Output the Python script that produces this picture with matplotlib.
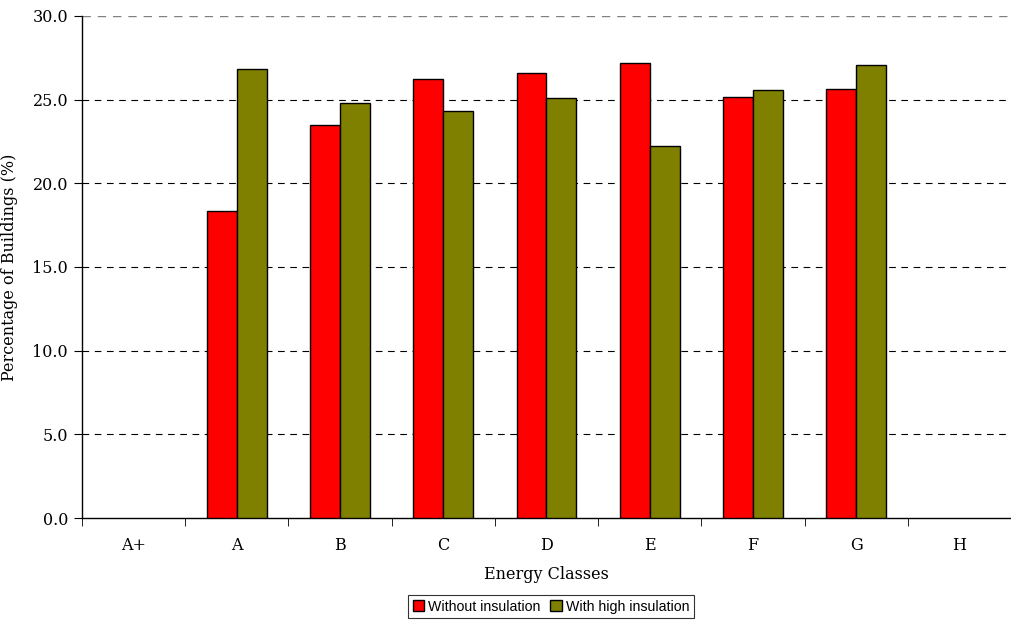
import matplotlib.pyplot as plt
import numpy as np

classes = ["A+", "A", "B", "C", "D", "E", "F", "G", "H"]
without_ins = [0.0, 18.35, 23.5, 26.24, 26.6, 27.2, 25.16, 25.64, 0.0]
with_high = [0.0, 26.84, 24.8, 24.33, 25.08, 22.24, 25.58, 27.08, 0.0]

plt.rcParams["font.family"] = "DejaVu Serif"

fig = plt.figure(figsize=(10.11, 6.22), dpi=100)
ax = fig.add_axes([0.0811, 0.1672, 0.9189, 0.8071])

x = np.arange(len(classes))
w = 0.29
# zero-height bars get no outline so they stay invisible
lw1 = [1.0 if v > 0 else 0 for v in without_ins]
lw2 = [1.0 if v > 0 else 0 for v in with_high]
b1 = ax.bar(x - w / 2, without_ins, w, color="#ff0000", edgecolor="black",
            linewidth=lw1, label="Without insulation", zorder=3)
b2 = ax.bar(x + w / 2, with_high, w, color="#808000", edgecolor="black",
            linewidth=lw2, label="With high insulation", zorder=3)

ax.set_xlim(-0.5, len(classes) - 0.5)
ax.set_ylim(0, 30)
ax.set_yticks(np.arange(0, 30.1, 5))
ax.set_yticklabels([f"{v:.1f}" for v in np.arange(0, 30.1, 5)], fontsize=11.5)
ax.set_xticks(x)
ax.set_xticklabels(classes, fontsize=11.5)
ax.set_xticks(np.arange(-0.5, len(classes), 1), minor=True)
ax.tick_params(axis="x", which="major", length=0, pad=14)
ax.tick_params(axis="x", which="minor", length=6, direction="out", color="black")
ax.tick_params(axis="y", length=6, direction="out", pad=4)

for v in np.arange(5, 26, 5):
    ax.axhline(v, color="black", linestyle=(0, (6, 5)), linewidth=0.8, zorder=1)
ax.axhline(30, color="#808080", linestyle=(0, (6, 5)), linewidth=1.0, zorder=1)

for s in ["top", "right"]:
    ax.spines[s].set_visible(False)
ax.spines["left"].set_linewidth(1.0)
ax.spines["bottom"].set_linewidth(1.0)

ax.set_xlabel("Energy Classes", fontsize=11.5, labelpad=8)
ax.set_ylabel("Percentage of Buildings (%)", fontsize=11.5, labelpad=10)

leg = fig.legend(handles=[b1, b2], loc="lower center", bbox_to_anchor=(0.545, 0.002),
                 ncol=2, frameon=True, fancybox=False, edgecolor="black",
                 prop={"family": "Liberation Sans", "size": 10.2},
                 handlelength=0.8, handleheight=0.8, handletextpad=0.3,
                 columnspacing=0.7, borderpad=0.3, borderaxespad=0.2)
leg.get_frame().set_linewidth(0.8)
for h in leg.legend_handles:
    h.set_linewidth(1.0)

fig.savefig("out.png", dpi=100)
